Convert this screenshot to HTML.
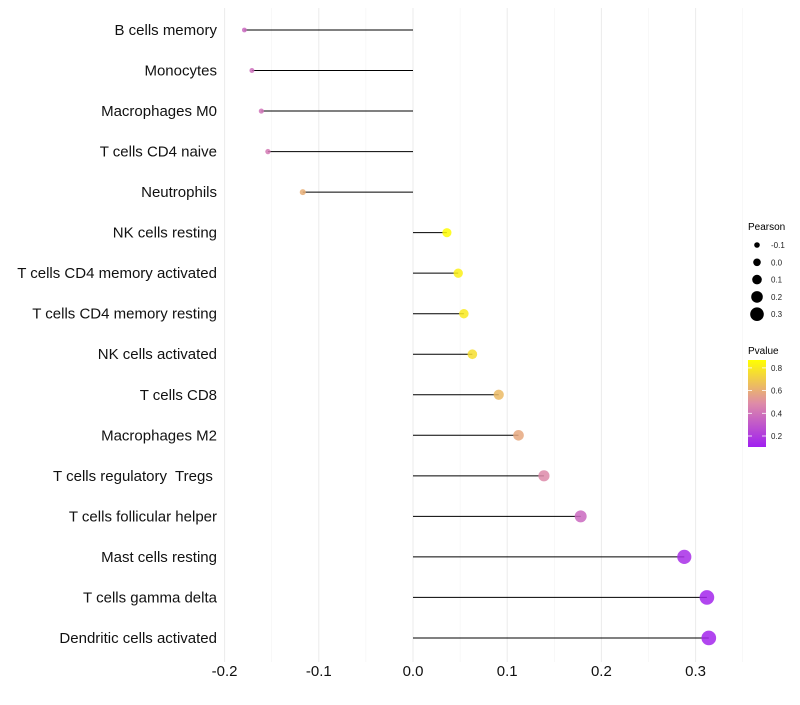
<!DOCTYPE html>
<html><head><meta charset="utf-8"><style>
body{margin:0;background:#fff;font-family:"Liberation Sans",sans-serif}
svg text{font-family:"Liberation Sans",sans-serif;white-space:pre}
</style></head><body>
<svg id="chart" width="800" height="700" xmlns="http://www.w3.org/2000/svg" xml:space="preserve">
<defs><linearGradient id="cb" x1="0" y1="1" x2="0" y2="0">
<stop offset="0" stop-color="#A020F0"/><stop offset="0.5" stop-color="#DE8BA8"/><stop offset="1" stop-color="#FFFF00"/>
</linearGradient></defs>
<g id="grid"></g><g id="marks"></g><g id="ylabels"></g><g id="xlabels"></g>
<g>
<text x="748" y="230" font-size="10">Pearson</text>
<g id="sizeLegend"></g>
</g>
<g>
<text x="748" y="354" font-size="10">Pvalue</text>
<rect x="748" y="360" width="18" height="87" fill="url(#cb)"/>
<g id="cbticks"></g>
</g>
</svg>
<script>
const categories=["B cells memory","Monocytes","Macrophages M0","T cells CD4 naive","Neutrophils","NK cells resting","T cells CD4 memory activated","T cells CD4 memory resting","NK cells activated","T cells CD8","Macrophages M2","T cells regulatory  Tregs ","T cells follicular helper","Mast cells resting","T cells gamma delta","Dendritic cells activated"];
const pearson=[-0.179,-0.171,-0.161,-0.154,-0.117,0.036,0.048,0.054,0.063,0.091,0.112,0.139,0.178,0.288,0.312,0.314];
const pvalue=[0.36,0.38,0.40,0.42,0.60,0.86,0.82,0.80,0.76,0.64,0.58,0.48,0.36,0.15,0.12,0.12];
const xTicks=[-0.2,-0.1,0.0,0.1,0.2,0.3];
const xTickLabels=["-0.2","-0.1","0.0","0.1","0.2","0.3"];
const sizeLegend=[-0.1,0.0,0.1,0.2,0.3];
const cbTicks=[0.2,0.4,0.6,0.8];

const NS="http://www.w3.org/2000/svg";
const x=v=>413+v*942;
const y=i=>30+i*40.53;
const r=v=>Math.max(2,4.2+10*v);
const cbY=p=>436-(p-0.2)*113.5;
function lerp(a,b,t){return a.map((c,i)=>Math.round(c+(b[i]-c)*t));}
function color(p){const t=Math.min(1,Math.max(0,(p-0.1)/0.77));
 const c=t<0.5?lerp([160,32,240],[222,139,168],t/0.5):lerp([222,139,168],[255,255,0],(t-0.5)/0.5);
 return `rgb(${c.join(',')})`;}
function mk(tag,attrs,parent){const e=document.createElementNS(NS,tag);for(const k in attrs)e.setAttribute(k,attrs[k]);parent.appendChild(e);return e;}
const grid=document.getElementById('grid'),marks=document.getElementById('marks'),yl=document.getElementById('ylabels'),xl=document.getElementById('xlabels');
for(let v=-0.2;v<=0.351;v+=0.05){const minor=Math.abs(Math.round(v*100)%10)===5;
const g=mk('line',{x1:x(v),x2:x(v),y1:8,y2:662,stroke:minor?'#f4f4f4':'#ebebeb','stroke-width':minor?0.6:1},grid);

}
xTicks.forEach((v,i)=>{const t=mk('text',{x:x(v),y:676,'font-size':15,'text-anchor':'middle',fill:'#111'},xl);t.textContent=xTickLabels[i];

});
categories.forEach((c,i)=>{
const t=mk('text',{x:217,y:y(i)+5,'font-size':15,'text-anchor':'end',fill:'#111'},yl);t.textContent=c;


const l=mk('line',{x1:x(0),x2:x(pearson[i]),y1:y(i),y2:y(i),stroke:'#000','stroke-width':1},marks);


const p=mk('circle',{cx:x(pearson[i]),cy:y(i),r:r(pearson[i]),fill:color(pvalue[i]),'fill-opacity':0.85},marks);


});
const sl=document.getElementById('sizeLegend');
sizeLegend.forEach((v,i)=>{const cy=245+i*17.3;
const c=mk('circle',{cx:757,cy:cy,r:2.8+i*1,fill:'#000'},sl);


const t=mk('text',{x:771,y:cy+3,'font-size':8,fill:'#222'},sl);t.textContent=v.toFixed(1);

});
const cbt=document.getElementById('cbticks');
cbTicks.forEach(p=>{const yy=cbY(p);
mk('line',{x1:748,x2:752,y1:yy,y2:yy,stroke:'#fff','stroke-width':0.8},cbt);
mk('line',{x1:762,x2:766,y1:yy,y2:yy,stroke:'#fff','stroke-width':0.8},cbt);
const t=mk('text',{x:771,y:yy+3,'font-size':8,fill:'#222'},cbt);t.textContent=p.toFixed(1);

});
</script>
</body></html>
